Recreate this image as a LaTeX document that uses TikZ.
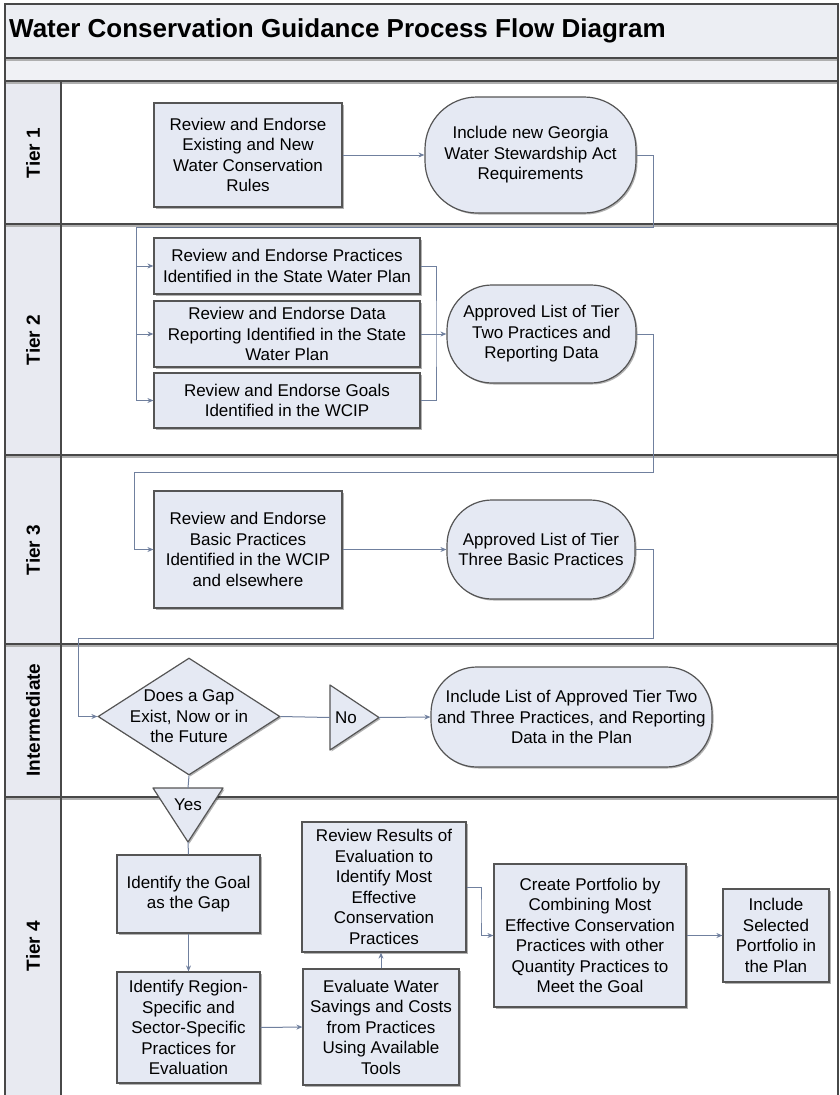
\documentclass[tikz,border=0pt]{standalone}
\usepackage{fontspec}
\setmainfont{Liberation Sans}
\usetikzlibrary{arrows.meta,shapes.geometric,shadows}

\definecolor{nodefill}{RGB}{229,233,243}
\definecolor{nodeline}{RGB}{85,85,85}
\definecolor{connline}{RGB}{112,128,158}
\definecolor{laneline}{RGB}{72,72,72}
\definecolor{laneshade}{RGB}{175,175,175}
\definecolor{headfill}{RGB}{236,238,243}
\definecolor{bandfill}{RGB}{240,241,245}
\definecolor{colfill}{RGB}{232,234,241}

\newcommand\wcnodefont{\fontsize{17}{20.5}\selectfont}
\newcommand\wclanefont{\fontsize{19}{22}\selectfont\bfseries}
\newcommand\wctitlefont{\fontsize{26}{31}\selectfont\bfseries}

\tikzset{
  shade/.style={drop shadow={shadow xshift=1.5pt,shadow yshift=-1.5pt,opacity=0.3,fill=black}},
  proc/.style={draw=nodeline,line width=1.2pt,fill=nodefill,inner sep=2pt,
    align=center,font=\wcnodefont,shade},
  term/.style={draw=nodeline,line width=1.2pt,fill=nodefill,inner sep=0pt,shade},
  decision/.style={diamond,draw=nodeline,line width=1.2pt,fill=nodefill,inner sep=0pt,shade},
  tri/.style={draw=nodeline,line width=1.2pt,fill=nodefill,line join=round,shade},
  txt/.style={align=center,font=\wcnodefont,inner sep=0pt},
  lanelabel/.style={rotate=90,font=\wclanefont,inner sep=0pt},
  conn/.style={draw=connline,line width=1pt},
  arr/.style={conn,-{Stealth[length=6pt,width=5pt]}},
  laneedge/.style={draw=laneline,line width=1.6pt},
  laneglow/.style={draw=laneshade,line width=2pt},
}

\begin{document}
\begin{tikzpicture}[x=1pt,y=-1pt]
\useasboundingbox (0,0) rectangle (840,1095);

% ---- pool frame, header bands and lane column ----
\fill[headfill] (5,4) rectangle (838,58);
\fill[bandfill] (5,58) rectangle (838,81);
\fill[colfill] (5,81) rectangle (61,1095);
\foreach \yy in {58,81,224,455,644,797}{
  \draw[laneglow] (5,\yy+2.2) -- (838,\yy+2.2);
  \draw[laneedge] (5,\yy) -- (838,\yy);
}
\draw[laneedge] (5,1096) -- (5,4) -- (838,4) -- (838,1096);
\draw[draw=laneline,line width=1.3pt] (61,81) -- (61,1096);

\node[anchor=west,font=\wctitlefont,inner sep=0pt] (title) at (9,31)
  {Water Conservation Guidance Process Flow Diagram};

% ---- lane labels ----
\node[lanelabel] (lane1) at (33,153) {Tier 1};
\node[lanelabel] (lane2) at (33,340) {Tier 2};
\node[lanelabel] (lane3) at (33,550) {Tier 3};
\node[lanelabel] (lanei) at (33,720) {Intermediate};
\node[lanelabel] (lane4) at (33,946) {Tier 4};

% ---- Tier 1 ----
\node[proc,minimum width=188,minimum height=104] (A) at (248,155)
  {Review and Endorse\\Existing and New\\Water Conservation\\Rules};
\node[term,rounded corners=52pt,minimum width=211,minimum height=116] (B) at (530.5,155) {};
\node[txt] (Bt) at (B) {Include new Georgia\\Water Stewardship Act\\Requirements};

% ---- Tier 2 ----
\node[proc,minimum width=266,minimum height=56] (C1) at (287,266)
  {Review and Endorse Practices\\Identified in the State Water Plan};
\node[proc,minimum width=266,minimum height=66] (C2) at (287,334)
  {Review and Endorse Data\\Reporting Identified in the State\\Water Plan};
\node[proc,minimum width=266,minimum height=55] (C3) at (287,400.5)
  {Review and Endorse Goals\\Identified in the WCIP};
\node[term,rounded corners=45pt,minimum width=189,minimum height=98] (D) at (541.5,334) {};
\node[txt] (Dt) at (D) {Approved List of Tier\\Two Practices and\\Reporting Data};

% ---- Tier 3 ----
\node[proc,minimum width=188,minimum height=117] (E) at (248,549.5)
  {Review and Endorse\\Basic Practices\\Identified in the WCIP\\and elsewhere};
\node[term,rounded corners=45pt,minimum width=188,minimum height=99] (F) at (541,549.5) {};
\node[txt] (Ft) at (F) {Approved List of Tier\\Three Basic Practices};

% ---- Intermediate ----
\node[decision,minimum width=182,minimum height=117] (G) at (189,716.5) {};
\node[txt] (Gt) at (G) {Does a Gap\\Exist, Now or in\\the Future};
\path[tri] (330,685) -- (379,717.5) -- (330,750) -- cycle;
\coordinate (noL) at (330,717.5);
\coordinate (noR) at (379,717.5);
\node[txt] (no) at (346,717.5) {No};
\node[term,rounded corners=46pt,minimum width=281,minimum height=100] (I) at (571.5,717) {};
\node[txt] (It) at (I) {Include List of Approved Tier Two\\and Three Practices, and Reporting\\Data in the Plan};

% ---- Tier 4 ----
\path[tri] (153,788) -- (223,788) -- (188,842) -- cycle;
\coordinate (yesT) at (188,788);
\coordinate (yesB) at (188,842);
\node[txt] (yes) at (188,805) {Yes};
\node[proc,minimum width=143,minimum height=78] (K) at (188.5,894)
  {Identify the Goal\\as the Gap};
\node[proc,minimum width=143,minimum height=111] (L) at (188.5,1027.5)
  {Identify Region-\\Specific and\\Sector-Specific\\Practices for\\Evaluation};
\node[proc,minimum width=156,minimum height=116] (M) at (381,1027)
  {Evaluate Water\\Savings and Costs\\from Practices\\Using Available\\Tools};
\node[proc,minimum width=164,minimum height=130] (N) at (384,887)
  {Review Results of\\Evaluation to\\Identify Most\\Effective\\Conservation\\Practices};
\node[proc,minimum width=192,minimum height=143] (O) at (590,935.5)
  {Create Portfolio by\\Combining Most\\Effective Conservation\\Practices with other\\Quantity Practices to\\Meet the Goal};
\node[proc,minimum width=106,minimum height=93] (P) at (776,935.5)
  {Include\\Selected\\Portfolio in\\the Plan};

% ---- routing points ----
\coordinate (r12) at (653,227);
\coordinate (l12) at (136,227);
\coordinate (brk) at (436,334);
\coordinate (r23) at (653,472);
\coordinate (l23) at (134,472);
\coordinate (r3i) at (653,638);
\coordinate (l3i) at (78,638);
\coordinate (nj) at (481,911);

% ---- connectors ----
\draw[arr] (A.east) -- (B.west);
\draw[arr] (B.east) -| (r12) -- (l12) |- (C3.west);
\draw[arr] (l12) |- (C1.west);
\draw[arr] (l12) |- (C2.west);
\draw[conn] (C1.east) -| (brk) |- (C3.east);
\draw[arr] (C2.east) -- (D.west);
\draw[arr] (D.east) -| (r23) -- (l23) |- (E.west);
\draw[arr] (E.east) -- (F.west);
\draw[arr] (F.east) -| (r3i) -- (l3i) |- (G.west);
\draw[conn] (G.east) -- (noL);
\draw[arr] (noR) -- (I.west);
\draw[conn] (G.south) -- (yesT);
\draw[conn] (yesB) -- (K.north);
\draw[arr] (K.south) -- (L.north);
\draw[arr] (L.east) -- (M.west);
\draw[arr] (M.north) -- (M.north |- N.south);
\draw[arr] (N.east) -| (nj) |- (O.west);
\draw[arr] (O.east) -- (P.west);
\end{tikzpicture}
\end{document}
